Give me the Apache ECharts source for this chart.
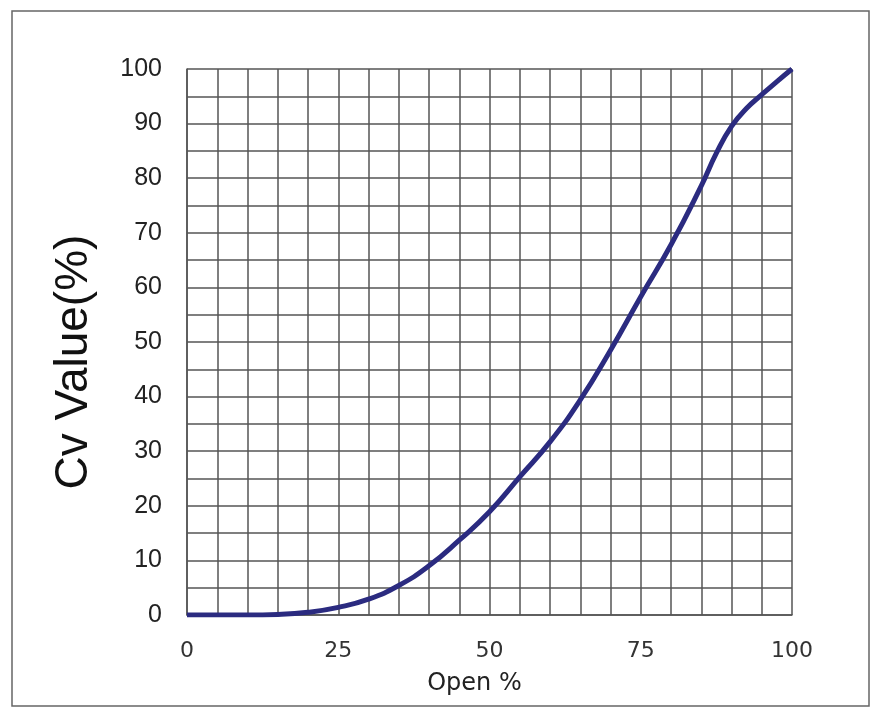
<!DOCTYPE html>
<html>
<head>
<meta charset="utf-8">
<script src="https://cdn.jsdelivr.net/npm/echarts@6/dist/echarts.min.js"></script>
<style>
html,body{margin:0;padding:0;background:#fff;}
#chart{width:884px;height:720px;}
</style>
</head>
<body>
<div id="chart"></div>
<script>
const openPct = [0, 5, 10, 15, 20, 25, 30, 35, 40, 45, 50, 55, 60, 65, 70, 75, 80, 85, 87.5, 90, 92.5, 95, 97.5, 100];
const cvValue = [0, 0, 0, 0.1, 0.5, 1.4, 2.9, 5.4, 9.0, 13.7, 18.9, 25.3, 31.7, 39.4, 48.5, 58.3, 67.8, 78.6, 84.6, 89.5, 92.8, 95.3, 97.7, 100];
const xLabels = [0, 25, 50, 75, 100];
const yLabels = [0, 10, 20, 30, 40, 50, 60, 70, 80, 90, 100];

const chart = echarts.init(document.getElementById('chart'), null, {renderer: 'canvas'});
const gridLine = {show: true, lineStyle: {color: '#555', width: 1.5}};
chart.setOption({
  animation: false,
  backgroundColor: '#fff',
  graphic: [{
    type: 'rect',
    shape: {x: 12, y: 11, width: 857, height: 695},
    style: {fill: 'none', stroke: '#666', lineWidth: 1.5},
    z: -1
  }],
  grid: {left: 187, top: 69, right: 92, bottom: 105, containLabel: false},
  xAxis: {
    type: 'value', min: 0, max: 100, interval: 5,
    name: 'Open %', nameLocation: 'middle', nameGap: 57,
    nameTextStyle: {fontFamily: 'DejaVu Sans', fontSize: 24, color: '#222', padding: [0, 30, 0, 0]},
    axisLine: {show: true, lineStyle: {color: '#555', width: 1.5}},
    axisTick: {show: false},
    splitLine: gridLine,
    axisLabel: {
      margin: 25, fontFamily: 'DejaVu Sans', fontSize: 22, color: '#333',
      formatter: v => xLabels.includes(v) ? String(v) : ''
    }
  },
  yAxis: {
    type: 'value', min: 0, max: 100, interval: 5,
    name: 'Cv Value(%)', nameLocation: 'middle', nameGap: 90,
    nameTextStyle: {fontFamily: 'Liberation Sans', fontSize: 46, color: '#111', padding: [0, 40, 0, 0]},
    axisLine: {show: true, lineStyle: {color: '#555', width: 1.5}},
    axisTick: {show: false},
    splitLine: gridLine,
    axisLabel: {
      margin: 25, fontFamily: 'Liberation Sans', fontSize: 25, color: '#222',
      formatter: v => yLabels.includes(v) ? String(v) : ''
    }
  },
  series: [{
    type: 'line',
    data: openPct.map((x, i) => [x, cvValue[i]]),
    smooth: 0.5,
    showSymbol: false,
    lineStyle: {color: '#2b2b80', width: 5}
  }]
});
</script>
</body>
</html>
